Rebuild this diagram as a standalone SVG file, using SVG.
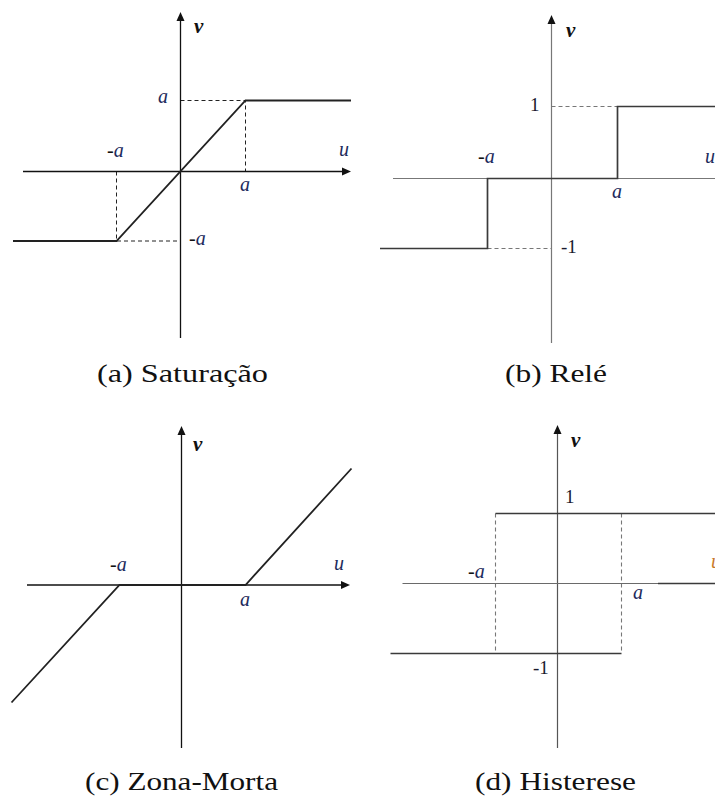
<svg xmlns="http://www.w3.org/2000/svg" width="715" height="799" viewBox="0 0 715 799">
<style>
  .axis{stroke:#111;stroke-width:1.3;fill:none}
  .axisg{stroke:#777;stroke-width:1.2;fill:none}
  .curve{stroke:#222;stroke-width:1.8;fill:none}
  .curveg{stroke:#3a3a3a;stroke-width:1.7;fill:none}
  .dash{stroke:#222;stroke-width:1;stroke-dasharray:4 3;fill:none}
  .dashg{stroke:#777;stroke-width:1.1;stroke-dasharray:4 3;fill:none}
  .head{fill:#111}
  .lbl{font-family:"Liberation Serif",serif;font-size:20px;fill:#1d2b5c;font-style:italic}
  .minus{font-style:normal;fill:#111}
  .num{font-family:"Liberation Serif",serif;font-size:19px;fill:#1a1a2e}
  .v{font-family:"Liberation Serif",serif;font-size:21px;font-weight:bold;font-style:italic;fill:#111}
  .cap{font-family:"Liberation Serif",serif;font-size:26px;fill:#111}
</style>
<rect width="715" height="799" fill="#fff"/>

<g id="panel-a">
  <g id="a-connectors">
    <path class="dash" d="M180.5 100.5 H245.5 V171.5"/>
    <path class="dash" d="M116.5 171.5 V241 H180.5"/>
    <path class="axis" d="M180.5 338 V19"/>
    <polygon class="head" points="180.5,12 176.5,21 184.5,21"/>
    <path class="axis" d="M23 171.5 H343"/>
    <polygon class="head" points="351,171.5 342,167.5 342,175.5"/>
    <path class="curve" d="M13 241 H116.5 L245.5 100.5 H351"/>
  </g>
  <text class="v" x="194" y="33">v</text>
  <text class="lbl" x="158" y="103">a</text>
  <text class="lbl" x="107" y="157"><tspan class="minus">-</tspan>a</text>
  <text class="lbl" x="339" y="156">u</text>
  <text class="lbl" x="240" y="191">a</text>
  <text class="lbl" x="189" y="245"><tspan class="minus">-</tspan>a</text>
  <text class="cap" x="97" y="382" textLength="171" lengthAdjust="spacingAndGlyphs">(a) Saturação</text>
</g>

<g id="panel-b">
  <g id="b-connectors">
    <path class="dashg" d="M551.5 106.5 H617.5"/>
    <path class="dashg" d="M487.5 248.5 H551.5"/>
    <path class="axisg" d="M551.5 343 V22"/>
    <polygon class="head" points="551.5,15 547.5,24 555.5,24"/>
    <path class="axisg" d="M393 178.5 H715"/>
    <path class="curveg" d="M380 248.5 H487.5 V178.5 H617.5 V106.5 H715"/>
  </g>
  <text class="v" x="566" y="37">v</text>
  <text class="num" x="530" y="111">1</text>
  <text class="lbl" x="478" y="163"><tspan class="minus">-</tspan>a</text>
  <text class="lbl" x="705" y="163">u</text>
  <text class="lbl" x="612" y="198">a</text>
  <text class="num" x="561" y="253">-1</text>
  <text class="cap" x="505" y="382" textLength="102" lengthAdjust="spacingAndGlyphs">(b) Relé</text>
</g>

<g id="panel-c">
  <g id="c-connectors">
    <path class="axis" d="M181.5 748 V433"/>
    <polygon class="head" points="181.5,426 177.5,435 185.5,435"/>
    <path class="axis" d="M27 585 H342"/>
    <polygon class="head" points="350,585 341,581 341,589"/>
    <path class="curve" d="M11.5 702.5 L119.5 585 H245.5 L351.5 468.5"/>
  </g>
  <text class="v" x="193" y="451">v</text>
  <text class="lbl" x="110" y="571"><tspan class="minus">-</tspan>a</text>
  <text class="lbl" x="334" y="570">u</text>
  <text class="lbl" x="240" y="606">a</text>
  <text class="cap" x="85" y="790" textLength="193" lengthAdjust="spacingAndGlyphs">(c) Zona-Morta</text>
</g>

<g id="panel-d">
  <g id="d-connectors">
    <path class="dashg" d="M495.5 513.5 V653.5"/>
    <path class="dashg" d="M621.5 513.5 V653.5"/>
    <path class="axisg" d="M557.5 748 V432" style="stroke:#555"/>
    <polygon class="head" points="557.5,425 553.5,434 561.5,434"/>
    <path class="axisg" d="M402.5 583.5 H715" style="stroke:#6a6a6a"/>
    <path class="curveg" d="M658 583.5 H715" style="stroke-width:1.3"/>
    <path class="curveg" d="M495.5 513.5 H715"/>
    <path class="curveg" d="M390.5 653.5 H621.5"/>
  </g>
  <text class="v" x="571" y="447">v</text>
  <text class="num" x="565" y="503">1</text>
  <text class="lbl" x="468" y="578"><tspan class="minus">-</tspan>a</text>
  <text class="lbl" x="633" y="599">a</text>
  <text class="num" x="533" y="674">-1</text>
  <text class="lbl" x="711" y="568" style="fill:#c87a2a">u</text>
  <text class="cap" x="475" y="790" textLength="161" lengthAdjust="spacingAndGlyphs">(d) Histerese</text>
</g>
</svg>
